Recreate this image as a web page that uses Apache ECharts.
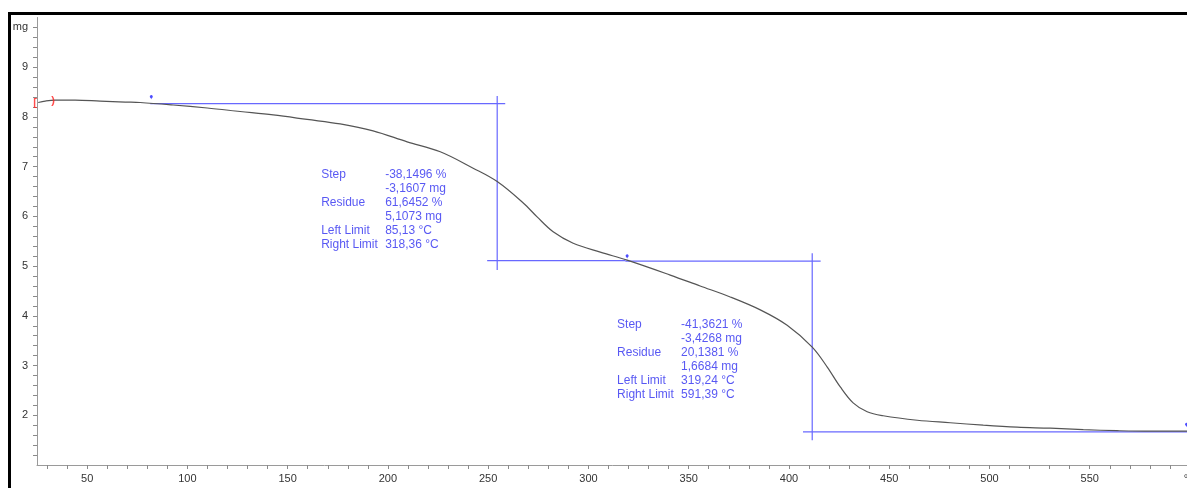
<!DOCTYPE html>
<html>
<head>
<meta charset="utf-8">
<script src="https://cdn.jsdelivr.net/npm/echarts@6/dist/echarts.min.js"></script>
<style>
html,body{margin:0;padding:0;background:#fff;}
#chart{width:1187px;height:488px;}
</style>
</head>
<body>
<div id="chart"></div>
<script>
// ---- data (temperature °C, mass mg) ----
const curveT = [25.6, 29.1, 34.0, 44.0, 56.5, 69.0, 76.4, 92.9, 109.9, 126.3, 142.8, 159.7, 176.2, 192.6, 209.6, 226.1, 242.5, 254.5, 267.5, 274.4, 282.4, 292.4, 305.9, 319.3, 340.8, 355.7, 370.7, 385.7, 399.1, 411.6, 419.1, 425.6, 432.0, 439.0, 447.0, 464.0, 480.4, 496.9, 513.8, 530.3, 546.8, 563.7, 580.2, 598.6];
const curveMass = [8.29, 8.32, 8.34, 8.34, 8.32, 8.30, 8.29, 8.24, 8.18, 8.11, 8.04, 7.95, 7.86, 7.72, 7.50, 7.30, 6.97, 6.70, 6.27, 5.99, 5.69, 5.46, 5.28, 5.12, 4.82, 4.60, 4.38, 4.12, 3.81, 3.37, 2.97, 2.57, 2.25, 2.07, 1.99, 1.90, 1.85, 1.80, 1.76, 1.74, 1.71, 1.69, 1.68, 1.68];

// step evaluation construction lines: [T1, m1, T2, m2]
const step1Lines = [[81.5, 8.268, 258.5, 8.268], [254.5, 8.42, 254.5, 4.92], [249.5, 5.112, 318.4, 5.112]];
const step2Lines = [[318.4, 5.100, 415.8, 5.100], [411.6, 5.26, 411.6, 1.50], [407.0, 1.668, 600, 1.668]];

// result tables
const step1Labels = ['Step', '', 'Residue', '', 'Left Limit', 'Right Limit'];
const step1Values = ['-38,1496 %', '-3,1607 mg', '61,6452 %', '5,1073 mg', '85,13 °C', '318,36 °C'];
const step2Labels = ['Step', '', 'Residue', '', 'Left Limit', 'Right Limit'];
const step2Values = ['-41,3621 %', '-3,4268 mg', '20,1381 %', '1,6684 mg', '319,24 °C', '591,39 °C'];
const step1TextAnchor = [166.7, 6.97];
const step2TextAnchor = [314.3, 3.96];

// markers
const blueMarkers = [[82.0, 8.35], [319.3, 5.15], [598.3, 1.76]];
const redMarkers = [[24.0, 8.28, '['], [33.0, 8.32, ')']];

// axes
const xMin = 25, xMax = 600;
const xLabelValues = [50, 100, 150, 200, 250, 300, 350, 400, 450, 500, 550, 600];
const xLabelTexts = ['50', '100', '150', '200', '250', '300', '350', '400', '450', '500', '550', '°C'];
const yMin = 1, yMax = 10;
const yLabelValues = [2, 3, 4, 5, 6, 7, 8, 9, 9.8];
const yLabelTexts = ['2', '3', '4', '5', '6', '7', '8', '9', 'mg'];

const xTicks = [];
for (let t = 30; t <= 600; t += 10) xTicks.push(t);
const yTicks = [];
for (let k = 6; k <= 49; k++) yTicks.push(+(k * 0.2).toFixed(1));

function lookup(vals, texts, v) {
  for (let i = 0; i < vals.length; i++) if (Math.abs(vals[i] - v) < 1e-6) return texts[i];
  return '';
}
function tableText(labels, values) {
  return labels.map((l, i) => '{l|' + (l || ' ') + '}{v|' + values[i] + '}').join('\n');
}

const blueLine = '#6868ff';
const blueText = '#2e2ef0';
const font = 'Liberation Sans, Arial, sans-serif';

const chart = echarts.init(document.getElementById('chart'), null, {renderer: 'canvas'});

const rich = {
  l: {width: 64, fontSize: 12, color: blueText, fontFamily: font, lineHeight: 14},
  v: {fontSize: 12, color: blueText, fontFamily: font, lineHeight: 14}
};

const segSeries = step1Lines.concat(step2Lines).map(s => ({
  type: 'line', z: 2, symbol: 'none', silent: true,
  lineStyle: {color: blueLine, width: 1.2},
  data: [[s[0], s[1]], [s[2], s[3]]]
}));

chart.setOption({
  animation: false,
  backgroundColor: '#fff',
  grid: {left: 37, top: 17.5, width: 1153, height: 447.5, outerBoundsMode: 'none', containLabel: false},
  xAxis: {
    type: 'value', min: xMin, max: xMax,
    axisLine: {show: true, lineStyle: {color: '#9a9a9a', width: 1}},
    axisTick: {show: true, length: 4, customValues: xTicks, lineStyle: {color: '#8a8a8a'}},
    axisLabel: {customValues: xLabelValues, margin: 8, color: '#333', fontSize: 11, fontFamily: font,
      formatter: v => lookup(xLabelValues, xLabelTexts, v)},
    splitLine: {show: false}
  },
  yAxis: {
    type: 'value', min: yMin, max: yMax,
    axisLine: {show: true, lineStyle: {color: '#9a9a9a', width: 1}},
    axisTick: {show: true, length: 4, customValues: yTicks, lineStyle: {color: '#8a8a8a'}},
    axisLabel: {customValues: yLabelValues, margin: 9, color: '#333', fontSize: 11, fontFamily: font,
      formatter: v => lookup(yLabelValues, yLabelTexts, v)},
    splitLine: {show: false}
  },
  graphic: [{
    type: 'rect', left: 7, top: 11, z: 100, silent: true,
    shape: {width: 1200, height: 500},
    style: {fill: null, stroke: '#000', lineWidth: 3}
  }],
  series: segSeries.concat([
    {
      type: 'line', z: 3, symbol: 'none', smooth: 0.35,
      lineStyle: {color: '#555', width: 1.2},
      data: curveT.map((t, i) => [t, curveMass[i]])
    },
    {
      type: 'scatter', z: 4, symbol: 'pin', symbolSize: 5, clip: false,
      itemStyle: {color: '#2020ff'},
      data: blueMarkers
    },
    {
      type: 'scatter', z: 4, symbolSize: 0, clip: false,
      label: {show: true, position: 'inside', color: '#ff2020', fontSize: 11, fontWeight: 'bold', fontFamily: font,
        formatter: p => p.data[2]},
      data: redMarkers
    },
    {
      type: 'scatter', z: 5, symbolSize: 0,
      label: {show: true, position: [0, 0], align: 'left', verticalAlign: 'top',
        formatter: p => p.dataIndex === 0 ? tableText(step1Labels, step1Values) : tableText(step2Labels, step2Values),
        rich: rich},
      data: [step1TextAnchor, step2TextAnchor]
    }
  ])
});
</script>
</body>
</html>
